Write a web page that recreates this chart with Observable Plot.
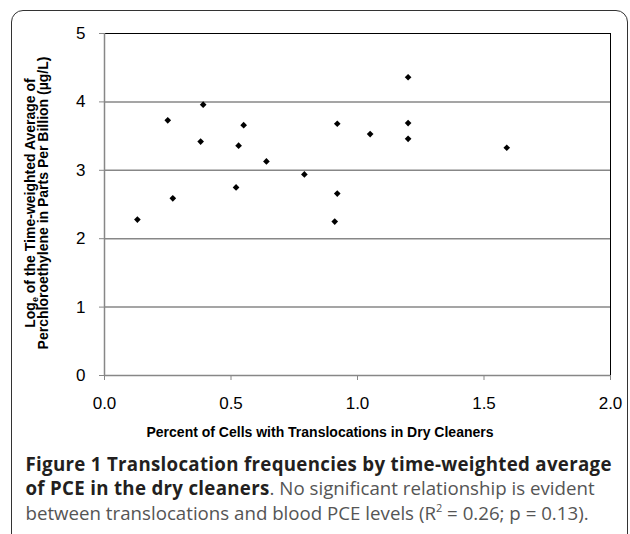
<!DOCTYPE html>
<html>
<head>
<meta charset="utf-8">
<script src="https://cdn.jsdelivr.net/npm/d3@7"></script>
<script src="https://cdn.jsdelivr.net/npm/@observablehq/plot@0.6"></script>
<style>
  html, body { margin: 0; padding: 0; background: #fff; }
  #wrap { position: relative; width: 630px; height: 534px; overflow: hidden; background: #fff; }
  #frame { position: absolute; left: 10.5px; top: 10px; width: 617px; height: 640px;
           border: 1.6px solid #333; border-radius: 12px; box-sizing: border-box; }
  #chart { position: absolute; left: 0; top: 0; }
  #caption { position: absolute; left: 25.5px; top: 451.5px; width: 605px;
             font-family: "Open Sans", "Noto Sans", sans-serif; font-size: 18.7px; line-height: 24.5px;
             color: #555; white-space: nowrap; }
  #caption b { color: #231f20; font-weight: 700; letter-spacing: 0.3px; }
  #caption sup { font-size: 11px; line-height: 0; vertical-align: 8px; }
</style>
</head>
<body>
<div id="wrap">
  <div id="frame"></div>
  <div id="chart"></div>
  <div id="caption">
    <b>Figure 1 Translocation frequencies by time-weighted average</b><br>
    <b>of PCE in the dry cleaners</b>. No significant relationship is evident<br>
    between translocations and blood PCE levels (R<sup>2</sup> = 0.26; p = 0.13).
  </div>
</div>
<script>
// Data
const translocPct = [0.13, 0.25, 0.27, 0.39, 0.38, 0.52, 0.53, 0.55, 0.64, 0.79, 0.91, 0.92, 0.92, 1.05, 1.20, 1.20, 1.20, 1.59];
const logPCE      = [2.28, 3.73, 2.59, 3.96, 3.42, 2.75, 3.36, 3.66, 3.13, 2.94, 2.25, 2.66, 3.68, 3.53, 4.36, 3.69, 3.46, 3.33];
const xTicks = [0, 0.5, 1.0, 1.5, 2.0];
const yTicks = [0, 1, 2, 3, 4, 5];
const yGrid  = [1, 2, 3, 4];
const xTitle = "Percent of Cells with Translocations in Dry Cleaners";
const yTitle1a = "Log", yTitle1sub = "e", yTitle1b = " of the Time-weighted Average of";
const yTitle2 = "Perchloroethylene in Parts Per Billion (µg/L)";

const data = translocPct.map((x, i) => ({x, y: logPCE[i]}));
const gray = "#878787";

const chart = Plot.plot({
  width: 630,
  height: 445,
  marginLeft: 104,
  marginRight: 20,
  marginTop: 33,
  marginBottom: 70,
  style: {fontFamily: "Arial, 'Liberation Sans', sans-serif", fontSize: "17px", color: "#000", background: "transparent", overflow: "visible"},
  x: {domain: [0, 2]},
  y: {domain: [0, 5]},
  marks: [
    Plot.ruleY(yGrid, {stroke: gray, strokeWidth: 1.5}),
    Plot.ruleY([5], {stroke: "#000", strokeWidth: 1}),
    Plot.ruleX([2], {stroke: "#000", strokeWidth: 1}),
    Plot.ruleX([0], {stroke: gray, strokeWidth: 1.5}),
    Plot.ruleY([0], {stroke: gray, strokeWidth: 1.5}),
    Plot.axisY({ticks: yTicks, tickSize: 5, tickPadding: 14, label: null, stroke: gray, tickFormat: d3.format("d")}),
    Plot.axisX({ticks: xTicks, tickSize: 5, tickPadding: 16, label: null, stroke: gray, tickFormat: d3.format(".1f")}),
    Plot.dot(data, {x: "x", y: "y", symbol: "diamond2", r: 3, fill: "#000", stroke: "none"})
  ]
});
document.getElementById("chart").appendChild(chart);

const svg = d3.select(chart);
svg.append("text")
  .attr("x", 320).attr("y", 436.5)
  .attr("text-anchor", "middle")
  .style("font", "bold 14px Arial, 'Liberation Sans', sans-serif")
  .attr("fill", "#000")
  .text(xTitle);

const t1 = svg.append("text")
  .attr("transform", "translate(34.5,203) rotate(-90)")
  .attr("text-anchor", "middle")
  .style("font", "bold 14px Arial, 'Liberation Sans', sans-serif")
  .attr("fill", "#000");
t1.append("tspan").text(yTitle1a);
t1.append("tspan").attr("dy", 3).style("font-size", "9px").text(yTitle1sub);
t1.append("tspan").attr("dy", -3).text(yTitle1b);

svg.append("text")
  .attr("transform", "translate(48,203) rotate(-90)")
  .attr("text-anchor", "middle")
  .style("font", "bold 14px Arial, 'Liberation Sans', sans-serif")
  .attr("fill", "#000")
  .text(yTitle2);
</script>
</body>
</html>
